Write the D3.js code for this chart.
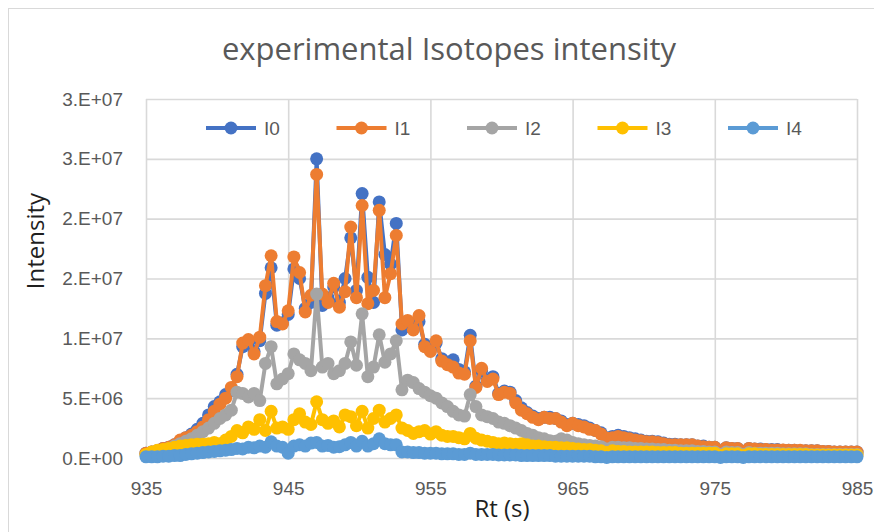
<!DOCTYPE html>
<html>
<head>
<meta charset="utf-8">
<script src="https://cdn.jsdelivr.net/npm/d3@7"></script>
<style>
	body { margin: 0; background: white; }
	.grid line { stroke: #d9d9d9; stroke-width: 1.6; }
	.grid .domain { display: none; }
	.axis .domain { display: none; }
	.axis text { font-family: 'Liberation Sans', Arial, sans-serif; font-size: 19px; fill: #595959; }
</style>
</head>
<body>
<div id="chart"></div>
<script>
// retention time (s)
var rt = [
	935.0, 935.4, 935.8, 936.2, 936.6, 937.0, 937.4, 937.8, 938.2, 938.6,
	939.0, 939.4, 939.8, 940.2, 940.6, 941.0, 941.4, 941.8, 942.2, 942.6,
	943.0, 943.4, 943.8, 944.2, 944.6, 945.0, 945.4, 945.8, 946.2, 946.6,
	947.0, 947.4, 947.8, 948.2, 948.6, 949.0, 949.4, 949.8, 950.2, 950.6,
	951.0, 951.4, 951.8, 952.2, 952.6, 953.0, 953.4, 953.8, 954.2, 954.6,
	955.0, 955.4, 955.8, 956.2, 956.6, 957.0, 957.4, 957.8, 958.2, 958.6,
	959.0, 959.4, 959.8, 960.2, 960.6, 961.0, 961.4, 961.8, 962.2, 962.6,
	963.0, 963.4, 963.8, 964.2, 964.6, 965.0, 965.4, 965.8, 966.2, 966.6,
	967.0, 967.4, 967.8, 968.2, 968.6, 969.0, 969.4, 969.8, 970.2, 970.6,
	971.0, 971.4, 971.8, 972.2, 972.6, 973.0, 973.4, 973.8, 974.2, 974.6,
	975.0, 975.4, 975.8, 976.2, 976.6, 977.0, 977.4, 977.8, 978.2, 978.6,
	979.0, 979.4, 979.8, 980.2, 980.6, 981.0, 981.4, 981.8, 982.2, 982.6,
	983.0, 983.4, 983.8, 984.2, 984.6, 985.0
];

// intensities, in millions
var i0 = [
	0.4, 0.5, 0.6, 0.8, 0.9, 1.1, 1.4, 1.7, 2.0, 2.4,
	2.9, 3.6, 4.3, 4.7, 5.3, 5.6, 7.0, 9.3, 9.6, 8.9,
	9.8, 13.75, 15.9, 11.1, 11.3, 12.0, 15.8, 15.0, 12.5, 13.0,
	25.0, 12.75, 13.4, 14.3, 13.0, 15.0, 18.4, 14.0, 22.1, 15.1,
	13.0, 21.4, 17.0, 16.2, 19.6, 10.7, 11.0, 11.2, 11.4, 9.5,
	9.0, 9.6, 8.3, 8.0, 8.2, 7.4, 7.2, 10.25, 6.0, 7.3,
	6.5, 6.8, 5.4, 5.6, 5.5, 4.8, 4.2, 3.8, 3.5, 3.3,
	3.4, 3.4, 3.3, 3.1, 2.8, 2.9, 2.8, 2.7, 2.5, 2.3,
	2.1, 1.7, 1.8, 1.9, 1.8, 1.7, 1.6, 1.5, 1.4, 1.4,
	1.35, 1.25, 1.15, 1.15, 1.1, 1.1, 1.1, 1.0, 1.0, 0.9,
	0.9, 0.5, 0.85, 0.8, 0.8, 0.5, 0.8, 0.75, 0.75, 0.7,
	0.7, 0.7, 0.65, 0.65, 0.65, 0.6, 0.6, 0.6, 0.6, 0.55,
	0.55, 0.5, 0.5, 0.5, 0.5, 0.5
];
var i1 = [
	0.4, 0.5, 0.6, 0.8, 0.9, 1.1, 1.5, 1.7, 1.9, 2.2,
	2.6, 3.2, 3.9, 4.5, 5.0, 5.9, 6.8, 9.6, 9.9, 8.7,
	10.1, 14.4, 16.9, 11.4, 11.2, 12.3, 16.8, 15.5, 12.2, 13.6,
	23.7, 13.7, 13.0, 14.6, 12.6, 13.9, 19.3, 13.4, 21.1, 12.9,
	14.0, 20.7, 13.4, 15.4, 18.6, 11.2, 11.5, 10.7, 11.9, 9.3,
	8.9, 9.8, 8.1, 7.8, 7.6, 7.1, 7.0, 9.8, 5.9, 7.5,
	6.4, 6.6, 5.3, 5.5, 5.4, 4.6, 4.0, 3.7, 3.4, 3.2,
	3.4, 3.3, 3.3, 3.0, 2.7, 2.9, 2.7, 2.6, 2.4, 2.3,
	2.0, 1.65, 1.7, 1.8, 1.7, 1.6, 1.5, 1.45, 1.35, 1.35,
	1.3, 1.2, 1.1, 1.1, 1.1, 1.1, 1.1, 1.0, 0.95, 0.9,
	0.9, 0.5, 0.85, 0.8, 0.8, 0.5, 0.8, 0.75, 0.7, 0.7,
	0.67, 0.67, 0.67, 0.65, 0.65, 0.65, 0.6, 0.6, 0.6, 0.55,
	0.55, 0.5, 0.5, 0.5, 0.5, 0.5
];
var i2 = [
	0.25, 0.3, 0.4, 0.6, 0.8, 1.0, 1.2, 1.4, 1.6, 1.9,
	2.2, 2.5, 2.9, 3.3, 3.6, 4.0, 5.5, 5.4, 5.1, 5.4,
	4.8, 7.9, 9.3, 6.2, 6.6, 7.05, 8.7, 8.2, 7.9, 7.3,
	13.7, 7.6, 7.9, 7.05, 7.3, 7.9, 9.7, 7.75, 12.05, 6.8,
	7.6, 10.3, 8.0, 8.7, 9.8, 5.7, 6.5, 6.3, 5.8, 5.5,
	5.2, 5.0, 4.6, 4.3, 3.9, 3.6, 3.5, 5.3, 4.3, 3.6,
	3.45, 3.3, 3.0, 2.9, 2.7, 2.5, 2.3, 2.05, 1.9, 1.7,
	1.6, 1.45, 1.4, 1.6, 1.5, 1.3, 1.2, 1.1, 1.05, 1.0,
	0.95, 0.75, 0.9, 0.9, 0.85, 0.85, 0.8, 0.8, 0.75, 0.75,
	0.7, 0.7, 0.65, 0.65, 0.6, 0.6, 0.6, 0.55, 0.55, 0.5,
	0.5, 0.3, 0.5, 0.45, 0.45, 0.3, 0.45, 0.4, 0.4, 0.4,
	0.4, 0.4, 0.35, 0.35, 0.35, 0.35, 0.35, 0.3, 0.3, 0.3,
	0.3, 0.3, 0.3, 0.3, 0.3, 0.3
];
var i3 = [
	0.3, 0.5, 0.65, 0.7, 0.8, 0.9, 1.0, 1.05, 1.1, 1.15,
	1.15, 1.2, 1.3, 1.2, 1.5, 1.8, 2.3, 2.1, 2.6, 2.4,
	3.2, 2.3, 3.9, 2.5, 2.6, 2.4, 3.2, 3.7, 3.0, 2.8,
	4.7, 3.2, 2.9, 3.1, 2.6, 3.6, 3.45, 2.7, 3.9, 2.5,
	3.3, 4.0, 3.0, 3.3, 3.6, 2.5, 2.3, 2.05, 2.2, 2.3,
	2.0, 2.2, 1.9, 1.8, 1.8, 1.7, 1.6, 2.05, 1.65, 1.5,
	1.4, 1.3, 1.2, 1.25, 1.2, 1.15, 1.2, 1.1, 1.0, 1.0,
	0.95, 0.9, 0.9, 0.85, 0.85, 0.8, 0.75, 0.7, 0.7, 0.65,
	0.6, 0.45, 0.6, 0.55, 0.55, 0.5, 0.5, 0.5, 0.5, 0.5,
	0.45, 0.45, 0.45, 0.45, 0.4, 0.4, 0.4, 0.4, 0.4, 0.4,
	0.4, 0.2, 0.35, 0.35, 0.35, 0.2, 0.35, 0.35, 0.3, 0.3,
	0.3, 0.3, 0.3, 0.3, 0.3, 0.3, 0.3, 0.25, 0.25, 0.25,
	0.25, 0.25, 0.25, 0.25, 0.25, 0.25
];
var i4 = [
	0.1, 0.1, 0.1, 0.15, 0.15, 0.2, 0.2, 0.3, 0.35, 0.4,
	0.45, 0.5, 0.55, 0.6, 0.65, 0.7, 0.8, 0.75, 0.9, 0.85,
	1.0, 0.9, 1.35, 1.0, 0.9, 0.4, 1.0, 1.1, 1.0, 1.25,
	1.3, 1.0, 1.05, 0.9, 0.95, 1.1, 1.3, 1.0, 1.4, 1.0,
	1.2, 1.6, 1.2, 1.1, 1.1, 0.5, 0.5, 0.45, 0.45, 0.4,
	0.4, 0.4, 0.35, 0.35, 0.35, 0.3, 0.3, 0.4, 0.3, 0.3,
	0.3, 0.3, 0.25, 0.25, 0.25, 0.25, 0.2, 0.2, 0.2, 0.2,
	0.2, 0.2, 0.15, 0.15, 0.15, 0.15, 0.15, 0.15, 0.15, 0.1,
	0.1, 0.05, 0.1, 0.1, 0.1, 0.1, 0.1, 0.1, 0.1, 0.1,
	0.1, 0.1, 0.1, 0.1, 0.1, 0.1, 0.1, 0.1, 0.1, 0.1,
	0.1, 0.05, 0.1, 0.1, 0.1, 0.05, 0.1, 0.1, 0.1, 0.1,
	0.1, 0.1, 0.1, 0.1, 0.1, 0.1, 0.1, 0.1, 0.1, 0.1,
	0.1, 0.1, 0.1, 0.1, 0.1, 0.1
];

var series_names = ['I0', 'I1', 'I2', 'I3', 'I4'];
var series_colors = ['#4472c4', '#ed7d31', '#a5a5a5', '#ffc000', '#5b9bd5'];
var x_ticks = [935, 945, 955, 965, 975, 985];
var y_ticks = [0, 5, 10, 15, 20, 25, 30];
var y_tick_labels = ['0.E+00', '5.E+06', '1.E+07', '2.E+07', '2.E+07', '3.E+07', '3.E+07'];

function draw_chart() {
	var series = [i0, i1, i2, i3, i4];

	var margin = {top: 99, right: 17, bottom: 74, left: 146};
	var width = 874 - margin.left - margin.right;
	var height = 532 - margin.top - margin.bottom;

	var svg = d3.select('#chart')
		.append('svg')
			.attr('width', 874)
			.attr('height', 532);

	// chart border
	svg.append('rect')
		.attr('x', 8.5)
		.attr('y', 8.5)
		.attr('width', 900)
		.attr('height', 600)
		.style('fill', 'none')
		.style('stroke', '#d9d9d9');

	// title
	svg.append('text')
		.attr('text-anchor', 'middle')
		.attr('x', 449)
		.attr('y', 60)
		.text('experimental Isotopes intensity')
		.style('font-family', '"Open Sans", sans-serif')
		.style('font-size', '31px')
		.style('fill', '#595959');

	// x-axis label
	svg.append('text')
		.attr('text-anchor', 'middle')
		.attr('x', 502)
		.attr('y', 517)
		.text('Rt (s)')
		.style('font-family', '"Open Sans", sans-serif')
		.style('font-size', '24px')
		.style('fill', '#1f1f1f');

	// y-axis label
	svg.append('text')
		.attr('text-anchor', 'middle')
		.attr('transform', 'translate(44,241) rotate(-90)')
		.text('Intensity')
		.style('font-family', '"Open Sans", sans-serif')
		.style('font-size', '24px')
		.style('fill', '#1f1f1f');

	var g = svg.append('g')
		.attr('transform', 'translate(' + margin.left + ',' + margin.top + ')');

	var x = d3.scaleLinear()
		.domain([935, 985])
		.range([0, width]);
	var y = d3.scaleLinear()
		.domain([0, 30])
		.range([height, 0]);

	// gridlines
	g.append('g')
		.attr('class', 'grid')
		.call(d3.axisLeft(y).tickValues(y_ticks).tickSize(-width).tickFormat(''));
	g.append('g')
		.attr('class', 'grid')
		.attr('transform', 'translate(0,' + height + ')')
		.call(d3.axisBottom(x).tickValues(x_ticks).tickSize(-height).tickFormat(''));

	// axes
	g.append('g')
		.attr('class', 'axis')
		.call(d3.axisLeft(y)
			.tickValues(y_ticks)
			.tickSize(0)
			.tickPadding(23)
			.tickFormat(function(d, i) { return y_tick_labels[i]; }));
	g.append('g')
		.attr('class', 'axis')
		.attr('transform', 'translate(0,' + height + ')')
		.call(d3.axisBottom(x)
			.tickValues(x_ticks)
			.tickSize(0)
			.tickPadding(24)
			.tickFormat(d3.format('d')));

	var line = d3.line()
		.x(function(d, i) { return x(rt[i]); })
		.y(function(d) { return y(d); });

	// lines and markers, I0 at the back
	series.forEach(function(values, s) {
		g.append('path')
			.datum(values)
			.attr('d', line)
			.style('fill', 'none')
			.style('stroke', series_colors[s])
			.style('stroke-width', 4)
			.style('stroke-linejoin', 'round');
		g.append('g')
			.selectAll('circle')
			.data(values)
			.enter()
			.append('circle')
				.attr('cx', function(d, i) { return x(rt[i]); })
				.attr('cy', function(d) { return y(d); })
				.attr('r', 6.5)
				.style('fill', series_colors[s]);
	});

	// legend
	var legend = svg.selectAll('legend_item')
		.data(series_names)
		.enter()
		.append('g')
			.attr('transform', function(d, i) { return 'translate(' + (231 + i * 130.5) + ',128)'; });
	legend.append('line')
		.attr('x1', -25)
		.attr('x2', 25)
		.style('stroke', function(d, i) { return series_colors[i]; })
		.style('stroke-width', 4);
	legend.append('circle')
		.attr('r', 6.5)
		.style('fill', function(d, i) { return series_colors[i]; });
	legend.append('text')
		.attr('x', 33)
		.attr('dy', '0.35em')
		.text(function(d) { return d; })
		.style('font-family', '"Liberation Sans", Arial, sans-serif')
		.style('font-size', '19px')
		.style('fill', '#595959');
}

draw_chart();
</script>
</body>
</html>
